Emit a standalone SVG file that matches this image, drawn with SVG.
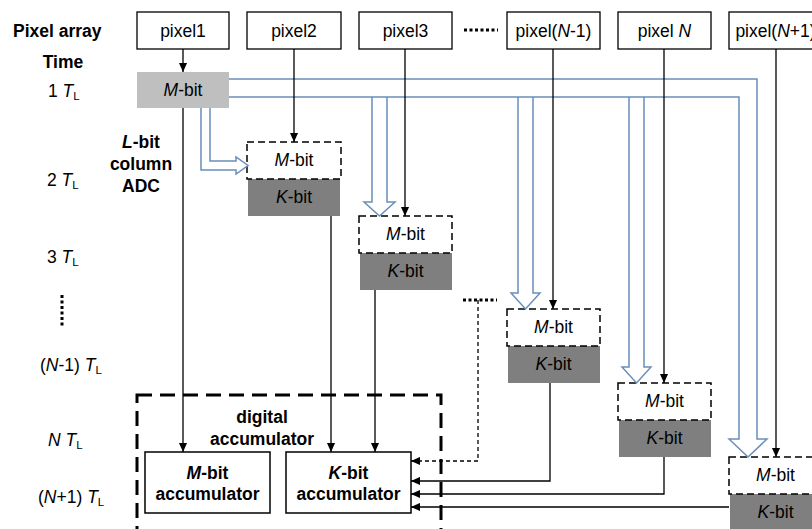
<svg xmlns="http://www.w3.org/2000/svg" width="812" height="529" viewBox="0 0 812 529">
  <defs>
    <style>
      text { font-family: "Liberation Sans", Arial, sans-serif; font-size: 17.5px; fill: #000; }
      .b { font-weight: bold; }
      .c { text-anchor: middle; }
      .i { font-style: italic; }
      .sub { font-size: 11.5px; }
      .px { fill: #fff; stroke: #000; stroke-width: 1.3; }
      .mbit { fill: #fff; stroke: #000; stroke-width: 1.5; stroke-dasharray: 7 4; }
      .kbit { fill: #7f7f7f; }
      .acc { fill: #fff; stroke: #000; stroke-width: 1.5; }
      .ln { fill: none; stroke: #000; stroke-width: 1.3; }
      .arr { marker-end: url(#ah); }
      .dash { stroke-dasharray: 4 3; }
      .dots { fill: none; stroke: #000; stroke-width: 3; stroke-dasharray: 3 2.5; }
      .blue { fill: none; stroke: #6a8fba; stroke-width: 1.5; stroke-linejoin: miter; }
      .frame { fill: none; stroke: #000; stroke-width: 3; stroke-dasharray: 15 8; }
    </style>
    <marker id="ah" viewBox="0 0 10 10" refX="10" refY="5" markerWidth="9" markerHeight="9" markerUnits="userSpaceOnUse" orient="auto">
      <path d="M0,0.5 L10,5 L0,9.5 Z" fill="#000"/>
    </marker>
  </defs>

  <!-- row and time labels -->
  <g id="labels">
    <text class="b" x="13" y="37">Pixel array</text>
    <text class="b c" x="63" y="68">Time</text>
    <text x="48" y="97">1 <tspan class="i">T</tspan><tspan class="sub" dy="3">L</tspan></text>
    <text x="47" y="186">2 <tspan class="i">T</tspan><tspan class="sub" dy="3">L</tspan></text>
    <text x="47" y="263">3 <tspan class="i">T</tspan><tspan class="sub" dy="3">L</tspan></text>
    <line class="dots" x1="62" y1="295" x2="62" y2="328"/>
    <text x="40" y="371">(<tspan class="i">N</tspan>-1)  <tspan class="i">T</tspan><tspan class="sub" dy="3">L</tspan></text>
    <text x="48" y="446"><tspan class="i">N</tspan> <tspan class="i">T</tspan><tspan class="sub" dy="3">L</tspan></text>
    <text x="38" y="503">(<tspan class="i">N</tspan>+1)  <tspan class="i">T</tspan><tspan class="sub" dy="3">L</tspan></text>
    <text class="b c" x="141" y="148"><tspan class="i">L</tspan>-bit</text>
    <text class="b c" x="141" y="170">column</text>
    <text class="b c" x="141" y="192">ADC</text>
  </g>

  <!-- pixel array -->
  <g id="pixel1"><rect class="px" x="137" y="12" width="92" height="37"/><text class="c" x="183" y="37">pixel1</text></g>
  <g id="pixel2"><rect class="px" x="247" y="12" width="94" height="37"/><text class="c" x="294" y="37">pixel2</text></g>
  <g id="pixel3"><rect class="px" x="359" y="12" width="93" height="37"/><text class="c" x="405.5" y="37">pixel3</text></g>
  <line class="dots" x1="464" y1="30" x2="498" y2="30"/>
  <g id="pixelN-1"><rect class="px" x="507" y="12" width="93" height="37"/><text class="c" x="553.5" y="37">pixel(<tspan class="i">N</tspan>-1)</text></g>
  <g id="pixelN"><rect class="px" x="618" y="12" width="93" height="37"/><text class="c" x="664.5" y="37">pixel <tspan class="i">N</tspan></text></g>
  <g id="pixelN+1"><rect class="px" x="729" y="12" width="93" height="37"/><text class="c" x="775.5" y="37">pixel(<tspan class="i">N</tspan>+1)</text></g>

  <!-- ADC stages -->
  <g id="adc1"><rect x="137" y="72" width="92" height="36" fill="#bfbfbf"/><text class="c" x="183" y="96"><tspan class="i">M</tspan>-bit</text></g>
  <g id="adc2">
    <rect class="kbit" x="248" y="179" width="92" height="37"/><text class="c" x="294" y="203"><tspan class="i">K</tspan>-bit</text>
    <rect class="mbit" x="247" y="142" width="94" height="37"/><text class="c" x="294" y="166"><tspan class="i">M</tspan>-bit</text>
  </g>
  <g id="adc3">
    <rect class="kbit" x="360" y="253" width="92" height="37"/><text class="c" x="405.5" y="277"><tspan class="i">K</tspan>-bit</text>
    <rect class="mbit" x="359" y="216" width="93" height="37"/><text class="c" x="405.5" y="240"><tspan class="i">M</tspan>-bit</text>
  </g>
  <g id="adcN-1">
    <rect class="kbit" x="508" y="346" width="92" height="37"/><text class="c" x="553.5" y="370"><tspan class="i">K</tspan>-bit</text>
    <rect class="mbit" x="507" y="309" width="93" height="37"/><text class="c" x="553.5" y="333"><tspan class="i">M</tspan>-bit</text>
  </g>
  <g id="adcN">
    <rect class="kbit" x="619" y="420" width="92" height="37"/><text class="c" x="664.5" y="444"><tspan class="i">K</tspan>-bit</text>
    <rect class="mbit" x="618" y="383" width="93" height="37"/><text class="c" x="664.5" y="407"><tspan class="i">M</tspan>-bit</text>
  </g>
  <g id="adcN+1">
    <rect class="kbit" x="730" y="494" width="92" height="37"/><text class="c" x="775.5" y="518"><tspan class="i">K</tspan>-bit</text>
    <rect class="mbit" x="729" y="457" width="93" height="37"/><text class="c" x="775.5" y="481"><tspan class="i">M</tspan>-bit</text>
  </g>

  <!-- digital accumulator -->
  <g id="accumulator">
    <rect class="frame" x="137" y="395" width="304" height="160"/>
    <text class="b c" x="262" y="423">digital</text>
    <text class="b c" x="262" y="445">accumulator</text>
    <g id="macc"><rect class="acc" x="145" y="452" width="125" height="61"/>
      <text class="b c" x="207.5" y="479"><tspan class="i">M</tspan>-bit</text>
      <text class="b c" x="207.5" y="500">accumulator</text></g>
    <g id="kacc"><rect class="acc" x="286" y="452" width="125" height="61"/>
      <text class="b c" x="348.5" y="479"><tspan class="i">K</tspan>-bit</text>
      <text class="b c" x="348.5" y="500">accumulator</text></g>
  </g>

  <g id="connectors">
    <!-- M-bit result handed on to the next stages (hollow arrows) -->
    <path class="blue" d="M229,79 H757 V439 H767 L748,457 L729,439 H739 V97 H229"/>
    <path class="blue" d="M372,97 V202 H364 L379.5,216 L395,202 H387 V97"/>
    <path class="blue" d="M518,97 V293 H511 L525.5,309 L540,293 H533 V97"/>
    <path class="blue" d="M629,97 V367 H622 L636.5,383 L651,367 H644 V97"/>
    <path class="blue" d="M201,108 V170 H236 V174 L248,165.5 L236,157 V161 H210 V108"/>

    <!-- pixel to ADC -->
    <line class="ln arr" x1="183" y1="49" x2="183" y2="72"/>
    <line class="ln arr" x1="294" y1="49" x2="294" y2="142"/>
    <line class="ln arr" x1="405" y1="49" x2="405" y2="216"/>
    <line class="ln arr" x1="553" y1="49" x2="553" y2="309"/>
    <line class="ln arr" x1="664" y1="49" x2="664" y2="383"/>
    <line class="ln arr" x1="776" y1="49" x2="776" y2="457"/>

    <!-- ADC to accumulators -->
    <line class="ln arr" x1="183" y1="108" x2="183" y2="452"/>
    <line class="ln arr" x1="331" y1="216" x2="331" y2="452"/>
    <line class="ln arr" x1="375" y1="290" x2="375" y2="452"/>
    <line class="dots" x1="463" y1="300" x2="497" y2="300"/>
    <path class="ln dash arr" d="M478,300 V461 H411"/>
    <path class="ln arr" d="M550,383 V481 H411"/>
    <path class="ln arr" d="M664,457 V494 H411"/>
    <path class="ln arr" d="M729,507 H411"/>
  </g>
</svg>
